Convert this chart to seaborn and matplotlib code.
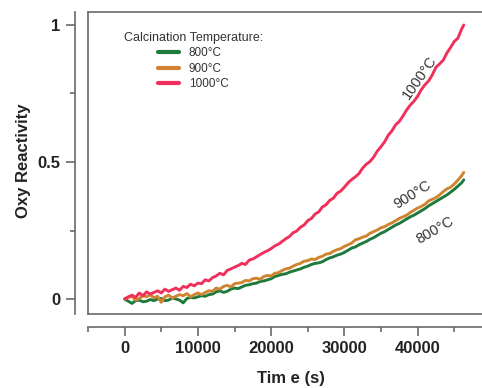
import numpy as np
import pandas as pd
import matplotlib
matplotlib.use("Agg")
import matplotlib.pyplot as plt
import seaborn as sns
from matplotlib.ticker import FixedLocator
from matplotlib.lines import Line2D

# ---------------- data ----------------
time_s = [0, 500, 1000, 1500, 2000, 2500, 3000, 3500, 4000, 4500,
          5000, 5500, 6000, 6500, 7000, 7500, 8000, 8500, 9000, 9500,
          10000, 10500, 11000, 11500, 12000, 12500, 13000, 13500, 14000, 14500,
          15000, 15500, 16000, 16500, 17000, 17500, 18000, 18500, 19000, 19500,
          20000, 20500, 21000, 21500, 22000, 22500, 23000, 23500, 24000, 24500,
          25000, 25500, 26000, 26500, 27000, 27500, 28000, 28500, 29000, 29500,
          30000, 30500, 31000, 31500, 32000, 32500, 33000, 33500, 34000, 34500,
          35000, 35500, 36000, 36500, 37000, 37500, 38000, 38500, 39000, 39500,
          40000, 40500, 41000, 41500, 42000, 42500, 43000, 43500, 44000, 44500,
          45000, 45500, 46000, 46300]

reactivity_800 = [0.000, -0.008, -0.016, -0.006, -0.004, -0.010, -0.008, -0.002, -0.006, 0.000,
                  0.002, -0.006, -0.004, 0.004, 0.000, -0.004, -0.014, 0.002, 0.006, 0.004,
                  0.008, 0.012, 0.010, 0.016, 0.018, 0.026, 0.030, 0.024, 0.028, 0.036,
                  0.040, 0.038, 0.044, 0.050, 0.052, 0.056, 0.058, 0.064, 0.066, 0.070,
                  0.074, 0.082, 0.086, 0.090, 0.092, 0.098, 0.102, 0.106, 0.110, 0.116,
                  0.120, 0.126, 0.130, 0.132, 0.136, 0.144, 0.150, 0.154, 0.160, 0.164,
                  0.170, 0.178, 0.186, 0.190, 0.198, 0.204, 0.210, 0.218, 0.224, 0.232,
                  0.240, 0.246, 0.254, 0.262, 0.270, 0.276, 0.284, 0.292, 0.300, 0.306,
                  0.314, 0.322, 0.330, 0.340, 0.348, 0.356, 0.364, 0.372, 0.380, 0.390,
                  0.400, 0.412, 0.424, 0.435]

reactivity_900 = [0.000, 0.006, 0.010, -0.004, 0.002, 0.012, 0.008, 0.016, 0.004, 0.010,
                  -0.012, 0.008, 0.014, 0.004, 0.010, 0.016, 0.012, 0.020, 0.008, 0.016,
                  0.022, 0.016, 0.024, 0.030, 0.028, 0.040, 0.036, 0.046, 0.050, 0.044,
                  0.056, 0.058, 0.060, 0.068, 0.066, 0.074, 0.076, 0.072, 0.082, 0.086,
                  0.084, 0.094, 0.096, 0.104, 0.110, 0.112, 0.120, 0.126, 0.130, 0.138,
                  0.140, 0.146, 0.144, 0.152, 0.156, 0.164, 0.166, 0.174, 0.180, 0.184,
                  0.192, 0.198, 0.204, 0.216, 0.220, 0.226, 0.230, 0.240, 0.246, 0.252,
                  0.260, 0.264, 0.272, 0.278, 0.286, 0.294, 0.300, 0.306, 0.316, 0.324,
                  0.332, 0.338, 0.346, 0.358, 0.364, 0.370, 0.380, 0.392, 0.402, 0.408,
                  0.420, 0.434, 0.450, 0.462]

reactivity_1000 = [0.000, 0.008, 0.014, 0.006, 0.022, 0.012, 0.026, 0.018, 0.024, 0.030,
                   0.022, 0.036, 0.028, 0.034, 0.040, 0.032, 0.046, 0.042, 0.054, 0.048,
                   0.058, 0.056, 0.070, 0.066, 0.078, 0.084, 0.094, 0.088, 0.104, 0.110,
                   0.116, 0.122, 0.130, 0.126, 0.142, 0.146, 0.154, 0.162, 0.170, 0.176,
                   0.184, 0.194, 0.200, 0.210, 0.220, 0.228, 0.242, 0.248, 0.262, 0.270,
                   0.286, 0.294, 0.310, 0.318, 0.336, 0.344, 0.360, 0.368, 0.386, 0.394,
                   0.408, 0.424, 0.436, 0.446, 0.458, 0.478, 0.492, 0.502, 0.518, 0.540,
                   0.556, 0.574, 0.598, 0.614, 0.636, 0.648, 0.668, 0.690, 0.708, 0.722,
                   0.740, 0.764, 0.782, 0.796, 0.818, 0.846, 0.858, 0.872, 0.898, 0.918,
                   0.940, 0.952, 0.985, 1.000]

series_labels = ["800°C", "900°C", "1000°C"]
series_colors = ["#1e7a3c", "#d08430", "#f0305a"]

x_ticks = [0, 10000, 20000, 30000, 40000]
x_tick_labels = ["0", "10000", "20000", "30000", "40000"]
y_ticks = [0, 0.5, 1]
y_tick_labels = ["0", "0.5", "1"]

# ---------------- build frame ----------------
frames = []
for lab, vals in zip(series_labels, [reactivity_800, reactivity_900, reactivity_1000]):
    frames.append(pd.DataFrame({"time": time_s, "value": vals, "series": lab}))
df = pd.concat(frames, ignore_index=True)

sns.set_style("white")
plt.rcParams["font.family"] = ["Liberation Sans", "DejaVu Sans"]

W, H = 482, 388
fig = plt.figure(figsize=(W / 100, H / 100), dpi=100)

# axes box in pixel terms
left_px, right_px, top_px, bottom_px = 88, 492, 12, 314
rect = [left_px / W, 1 - bottom_px / H, (right_px - left_px) / W, (bottom_px - top_px) / H]
xlim = (-5000, 50150)
ylim = (-0.0547, 1.0474)

ax = fig.add_axes(rect)
sns.lineplot(data=df, x="time", y="value", hue="series",
             palette=dict(zip(series_labels, series_colors)),
             hue_order=series_labels, estimator=None, sort=False,
             linewidth=2.1, ax=ax, legend=False)
ax.set_xlim(*xlim)
ax.set_ylim(*ylim)
ax.set_xlabel("")
ax.set_ylabel("")
ax.tick_params(length=0, labelbottom=False, labelleft=False)
for s in ax.spines.values():
    s.set_visible(True)
    s.set_color("#6a6a6a")
    s.set_linewidth(1.2)

# offset axis lines with ticks
ax2 = fig.add_axes(rect)
ax2.patch.set_visible(False)
ax2.set_xlim(*xlim)
ax2.set_ylim(*ylim)
for side in ["top", "right"]:
    ax2.spines[side].set_visible(False)
for side in ["left", "bottom"]:
    ax2.spines[side].set_visible(True)
    ax2.spines[side].set_position(("outward", 13 * 0.72))
    ax2.spines[side].set_color("#6a6a6a")
    ax2.spines[side].set_linewidth(1.2)

ax2.set_xticks(x_ticks)
ax2.set_xticklabels(x_tick_labels)
ax2.xaxis.set_minor_locator(FixedLocator([-5000, 5000, 15000, 25000, 35000, 45000]))
ax2.set_yticks(y_ticks)
ax2.set_yticklabels(y_tick_labels)
ax2.yaxis.set_minor_locator(FixedLocator([0.25, 0.75]))
ax2.tick_params(which="major", direction="out", length=6.8, width=1.2, color="#6a6a6a",
                labelsize=12, labelcolor="#222222", bottom=True, left=True)
ax2.tick_params(axis="x", which="major", pad=3)
ax2.tick_params(axis="y", which="major", pad=3.5)
ax2.tick_params(which="minor", direction="out", length=3.5, width=1.2, color="#6a6a6a",
                bottom=True, left=True)
for t in ax2.get_xticklabels() + ax2.get_yticklabels():
    t.set_fontweight("bold")

ax2.set_xlabel("Tim e (s)", fontsize=12, fontweight="bold", color="#222222")
ax2.set_ylabel("Oxy Reactivity", fontsize=12, fontweight="bold", color="#222222")
ax2.xaxis.set_label_coords((291 - left_px) / (right_px - left_px), -(371 - bottom_px) / (bottom_px - top_px))
ax2.yaxis.set_label_coords(-(left_px - 31) / (right_px - left_px), (bottom_px - 161) / (bottom_px - top_px))

# legend
handles = [Line2D([0], [0], color=c, lw=3) for c in series_colors]
leg = ax.legend(handles, series_labels, title="Calcination Temperature:",
                loc="upper left", bbox_to_anchor=(113 / W, 1 - 21 / H),
                bbox_transform=fig.transFigure, frameon=False,
                fontsize=8.5, title_fontsize=9, handlelength=1.8,
                handletextpad=0.8, labelspacing=0.3, borderpad=0.4)
for t in leg.get_texts():
    t.set_color("#333333")
leg.get_title().set_color("#333333")

# inline annotations
ann_color = "#333333"
ax.text(40270, 0.81, "1000°C", rotation=55, rotation_mode="anchor",
        ha="center", va="center", fontsize=10.5, color=ann_color)
ax.text(39320, 0.38, "900°C", rotation=32, rotation_mode="anchor",
        ha="center", va="center", fontsize=10.5, color=ann_color)
ax.text(42320, 0.252, "800°C", rotation=30, rotation_mode="anchor",
        ha="center", va="center", fontsize=10.5, color=ann_color)

fig.savefig("out.png", dpi=100)
